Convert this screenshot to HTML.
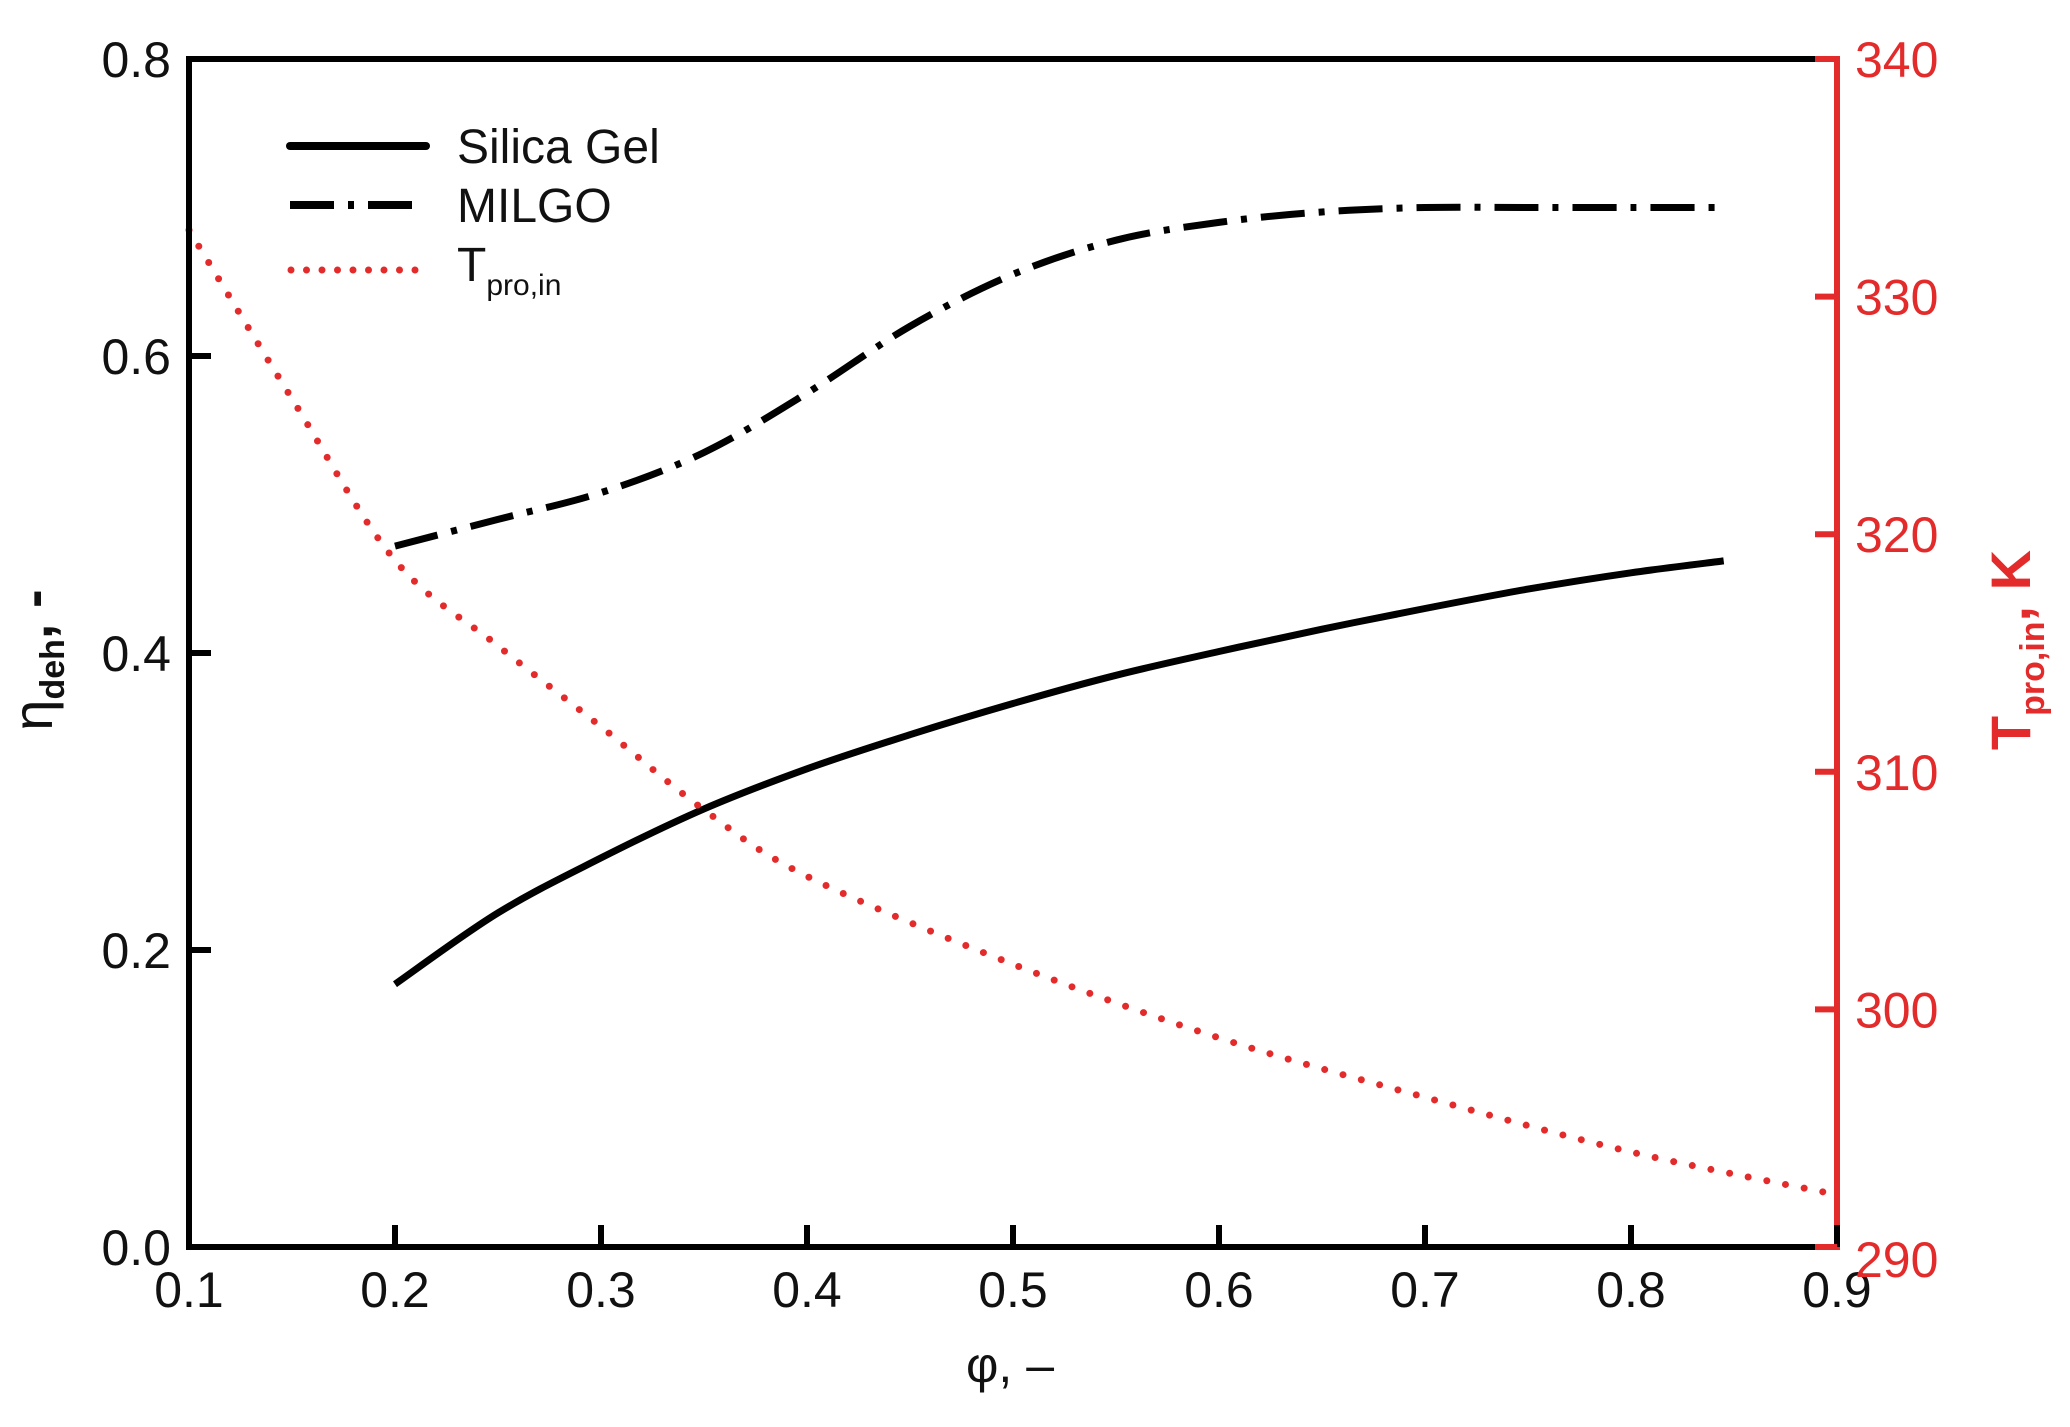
<!DOCTYPE html>
<html><head><meta charset="utf-8"><style>
html,body{margin:0;padding:0;background:#fff;}
body{position:relative;}
svg text{font-family:"Liberation Sans",sans-serif;}
</style></head><body>
<svg id="chart" width="2070" height="1422" viewBox="0 0 2070 1422">
<g id="marks"></g>
<g id="axes"></g>
</svg>
<script>
const xCats=[0.2,0.25,0.3,0.35,0.4,0.45,0.5,0.55,0.6,0.65,0.7,0.75,0.8,0.845];
const silicaVals=[0.177,0.225,0.262,0.295,0.322,0.345,0.366,0.385,0.401,0.416,0.43,0.443,0.454,0.462];
const milgoVals=[0.472,0.49,0.508,0.535,0.575,0.62,0.655,0.678,0.69,0.697,0.7,0.7,0.7,0.7];
const tX=[0.1,0.15,0.2,0.25,0.3,0.35,0.4,0.5,0.6,0.7,0.8,0.9];
const tVals=[332.8,325.7,318.9,315.3,311.9,308.4,305.6,301.9,298.8,296.3,294.0,292.2];
const xTicks=[0.1,0.2,0.3,0.4,0.5,0.6,0.7,0.8,0.9];
const yTicks=[0.0,0.2,0.4,0.6,0.8];
const y2Ticks=[290,300,310,320,330,340];

const X0=189,X1=1837,Y0=59,Y1=1247,RED="#e32b2b";
const sx=v=>X0+(v-0.1)/0.8*(X1-X0);
const sy=v=>Y1-v/0.8*(Y1-Y0);
const sy2=v=>Y1-(v-290)/50*(Y1-Y0);
const NS="http://www.w3.org/2000/svg";
function mk(tag,attrs,parent,txt){const e=document.createElementNS(NS,tag);for(const k in attrs)e.setAttribute(k,attrs[k]);if(txt!==undefined)e.textContent=txt;parent.appendChild(e);return e;}
const marks=document.getElementById('marks'),axes=document.getElementById('axes');
function smooth(xs,ys,f){
 const p=xs.map((x,i)=>[sx(x),f(ys[i])]);
 let d="M"+p[0][0].toFixed(1)+","+p[0][1].toFixed(1);
 for(let i=0;i<p.length-1;i++){
  const a=p[Math.max(0,i-1)],b=p[i],c=p[i+1],e=p[Math.min(p.length-1,i+2)];
  const c1=[b[0]+(c[0]-a[0])/6,b[1]+(c[1]-a[1])/6],c2=[c[0]-(e[0]-b[0])/6,c[1]-(e[1]-b[1])/6];
  d+=" C"+c1.map(v=>v.toFixed(1)).join(",")+" "+c2.map(v=>v.toFixed(1)).join(",")+" "+c[0].toFixed(1)+","+c[1].toFixed(1);
 }
 return d;
}

let e=mk('path',{d:smooth(xCats,silicaVals,sy),fill:'none',stroke:'#000','stroke-width':7,'stroke-linejoin':'round'},marks);


e=mk('path',{d:smooth(xCats,milgoVals,sy),fill:'none',stroke:'#000','stroke-width':7,'stroke-dasharray':'44 14 6 14'},marks);


e=mk('path',{d:smooth(tX,tVals,sy2),fill:'none',stroke:RED,'stroke-width':7,'stroke-dasharray':'0 19','stroke-linecap':'round'},marks);



mk('line',{x1:X0,y1:Y0,x2:X1,y2:Y0,stroke:'#000','stroke-width':6},axes);
e=mk('line',{x1:X0,y1:Y0-3,x2:X0,y2:Y1+3,stroke:'#000','stroke-width':6},axes);


e=mk('line',{x1:X0,y1:Y1,x2:X1,y2:Y1,stroke:'#000','stroke-width':6},axes);


e=mk('line',{x1:X1,y1:Y0-3,x2:X1,y2:Y1+3,stroke:RED,'stroke-width':6},axes);



xTicks.forEach(v=>{
 mk('line',{x1:sx(v),y1:Y1,x2:sx(v),y2:Y1-22,stroke:'#000','stroke-width':6},axes);
 const t=mk('text',{x:sx(v),y:Y1+60,'font-size':50,'text-anchor':'middle',fill:'#111'},axes,v.toFixed(1));
 
 
});
yTicks.forEach(v=>{
 mk('line',{x1:X0,y1:sy(v),x2:X0+22,y2:sy(v),stroke:'#000','stroke-width':6},axes);
 const t=mk('text',{x:X0-18,y:sy(v)+18,'font-size':50,'text-anchor':'end',fill:'#111'},axes,v.toFixed(1));
 
 
});
y2Ticks.forEach(v=>{
 mk('line',{x1:X1,y1:sy2(v),x2:X1-22,y2:sy2(v),stroke:RED,'stroke-width':6},axes);
 const t=mk('text',{x:X1+18,y:sy2(v)+18+(v===290?12:0),'font-size':50,fill:RED},axes,String(v));
 
 
});
</script>
<svg width="2070" height="1422" style="position:absolute;left:0;top:0">
<g>
<line x1="290" y1="146" x2="426" y2="146" stroke="#000" stroke-width="8" stroke-linecap="round"/>
<text x="457" y="163" font-size="48" fill="#111" font-family="Liberation Sans">Silica Gel</text>
<line x1="290" y1="205" x2="426" y2="205" stroke="#000" stroke-width="8" stroke-dasharray="44 14 6 14"/>
<text x="457" y="222" font-size="48" fill="#111" font-family="Liberation Sans">MILGO</text>
<line x1="291" y1="270" x2="426" y2="270" stroke="#e32b2b" stroke-width="7" stroke-dasharray="0 15.5" stroke-linecap="round"/>
<text x="457" y="281" font-size="48" fill="#111" font-family="Liberation Sans">T<tspan font-size="30" dy="14">pro,in</tspan></text>
</g>
<text x="1010" y="1382" font-size="50" text-anchor="middle" fill="#111" font-family="Liberation Serif">φ, –</text>
<text transform="translate(52,660) rotate(-90)" font-size="56" text-anchor="middle" fill="#111" font-family="Liberation Sans">η<tspan font-size="34" dy="12" font-weight="bold">deh</tspan><tspan dy="-12" font-weight="bold">, -</tspan></text>
<text transform="translate(2030,650) rotate(-90)" font-size="56" text-anchor="middle" fill="#e32b2b" font-weight="bold" font-family="Liberation Sans">T<tspan font-size="34" dy="14">pro,in</tspan><tspan dy="-14">, K</tspan></text>
</svg>
</body></html>
